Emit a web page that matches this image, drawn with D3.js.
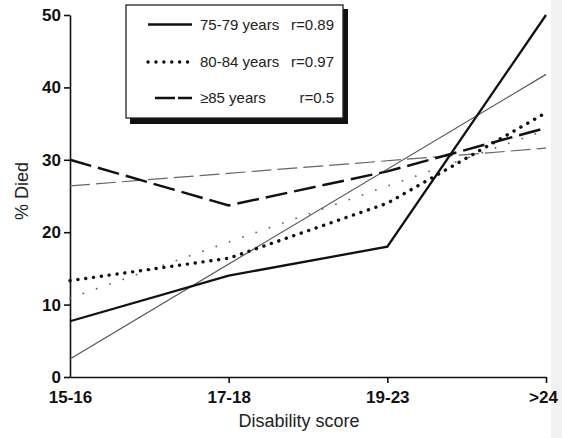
<!DOCTYPE html>
<html>
<head>
<meta charset="utf-8">
<script src="https://cdn.jsdelivr.net/npm/d3@7/dist/d3.min.js"></script>
<style>
  body { margin: 0; background: #fff; }
  svg { display: block; font-family: "Liberation Sans", Arial, Helvetica, sans-serif; }
  .axis path, .axis line { stroke: #111; stroke-width: 1.6; }
  .axis text { font-size: 17px; font-weight: bold; fill: #111; }
</style>
</head>
<body>
<script>
// data
const categories = ["15-16", "17-18", "19-23", ">24"];
const died7579 = [7.7, 14, 18, 50];
const died8084 = [13.3, 16.4, 24, 36.5];
const died85 = [30, 23.7, 28.4, 34.4];
// regression lines, value at first and last category
const fitCats = ["15-16", ">24"];
const fit7579 = [2.5, 41.8];
const fit8084 = [10.9, 34.1];
const fit85 = [26.4, 31.6];
const yTicks = [0, 10, 20, 30, 40, 50];
const legendLabels = ["75-79 years", "80-84 years", "\u226585 years"];
const legendR = ["r=0.89", "r=0.97", "r=0.5"];

const width = 562, height = 438;
const svg = d3.select("body").append("svg")
    .attr("width", width)
    .attr("height", height);

// faint scan edge at the right
svg.append("rect")
    .attr("x", 551).attr("y", 0)
    .attr("width", 11).attr("height", height)
    .attr("fill", "#f1f1f1");

const x = d3.scalePoint()
    .domain(categories)
    .range([70, 546]);

const y = d3.scaleLinear()
    .domain([0, 50])
    .range([377, 15]);

// axes
const yAxis = d3.axisLeft(y)
    .tickValues(yTicks)
    .tickSize(6)
    .tickSizeOuter(0)
    .tickPadding(3);

svg.append("g")
    .attr("class", "axis")
    .attr("transform", "translate(" + x(categories[0]) + ",0)")
    .call(yAxis);

const xAxis = d3.axisBottom(x)
    .tickSize(6)
    .tickSizeOuter(0)
    .tickPadding(7);

const gx = svg.append("g")
    .attr("class", "axis")
    .attr("transform", "translate(0," + y(0) + ")")
    .call(xAxis);
gx.selectAll(".tick").filter(function (d) { return d === categories[0]; })
    .select("line").remove();
gx.selectAll(".tick text").attr("dy", "0.76em");
gx.selectAll(".tick").filter(function (d) { return d === ">24"; })
    .select("text").attr("dx", -3);

// axis titles
svg.append("text")
    .attr("x", 299)
    .attr("y", 427)
    .attr("text-anchor", "middle")
    .attr("font-size", 18)
    .attr("fill", "#222")
    .text("Disability score");

svg.append("text")
    .attr("transform", "translate(28,191) rotate(-90)")
    .attr("text-anchor", "middle")
    .attr("font-size", 18)
    .attr("fill", "#222")
    .text("% Died");

// line styles
const styles = [
    { data: died7579, width: 2.3, dash: null, cap: "butt", color: "#111" },
    { data: died8084, width: 3.4, dash: "0.1 7.8", cap: "round", color: "#111" },
    { data: died85, width: 2.5, dash: "22 7", cap: "butt", color: "#111" }
];
const fitStyles = [
    { data: fit7579, width: 1.2, dash: null, cap: "butt", color: "#555" },
    { data: fit8084, width: 1.8, dash: "0.1 14", cap: "round", color: "#666" },
    { data: fit85, width: 1.2, dash: "20 6", cap: "butt", color: "#666" }
];

const line = d3.line()
    .x(function (d) { return x(d[0]); })
    .y(function (d) { return y(d[1]); });

svg.selectAll(".fit")
    .data(fitStyles)
    .enter()
    .append("path")
    .attr("class", "fit")
    .attr("fill", "none")
    .attr("stroke", function (d) { return d.color; })
    .attr("stroke-width", function (d) { return d.width; })
    .attr("stroke-dasharray", function (d) { return d.dash; })
    .attr("stroke-linecap", function (d) { return d.cap; })
    .attr("d", function (d) {
        return line(fitCats.map(function (c, i) { return [c, d.data[i]]; }));
    });

svg.selectAll(".series")
    .data(styles)
    .enter()
    .append("path")
    .attr("class", "series")
    .attr("fill", "none")
    .attr("stroke", function (d) { return d.color; })
    .attr("stroke-width", function (d) { return d.width; })
    .attr("stroke-dasharray", function (d) { return d.dash; })
    .attr("stroke-linecap", function (d) { return d.cap; })
    .attr("stroke-linejoin", "miter")
    .attr("d", function (d) {
        return line(categories.map(function (c, i) { return [c, d.data[i]]; }));
    });

// legend box with shadow
const legend = svg.append("g");
legend.append("rect")
    .attr("x", 130).attr("y", 9)
    .attr("width", 218).attr("height", 115)
    .attr("fill", "#111");
legend.append("rect")
    .attr("x", 126).attr("y", 5)
    .attr("width", 217).attr("height", 113)
    .attr("fill", "#fff")
    .attr("stroke", "#222")
    .attr("stroke-width", 1.3);

const rowY = [24.5, 62, 98];
const rows = legend.selectAll(".row")
    .data(styles)
    .enter()
    .append("g")
    .attr("class", "row")
    .attr("transform", function (d, i) { return "translate(0," + rowY[i] + ")"; });

rows.append("line")
    .attr("x1", function (d, i) { return i === 2 ? 155 : 148; })
    .attr("x2", 192)
    .attr("stroke", "#111")
    .attr("stroke-width", function (d) { return d.width; })
    .attr("stroke-dasharray", function (d, i) { return i === 2 ? "20 3" : d.dash; })
    .attr("stroke-linecap", function (d) { return d.cap; });

rows.append("text")
    .attr("x", 200)
    .attr("dy", "0.35em")
    .attr("font-size", 15)
    .attr("fill", "#222")
    .text(function (d, i) { return legendLabels[i]; });

rows.append("text")
    .attr("x", 334)
    .attr("dy", "0.35em")
    .attr("text-anchor", "end")
    .attr("font-size", 15)
    .attr("fill", "#222")
    .text(function (d, i) { return legendR[i]; });
</script>
</body>
</html>
